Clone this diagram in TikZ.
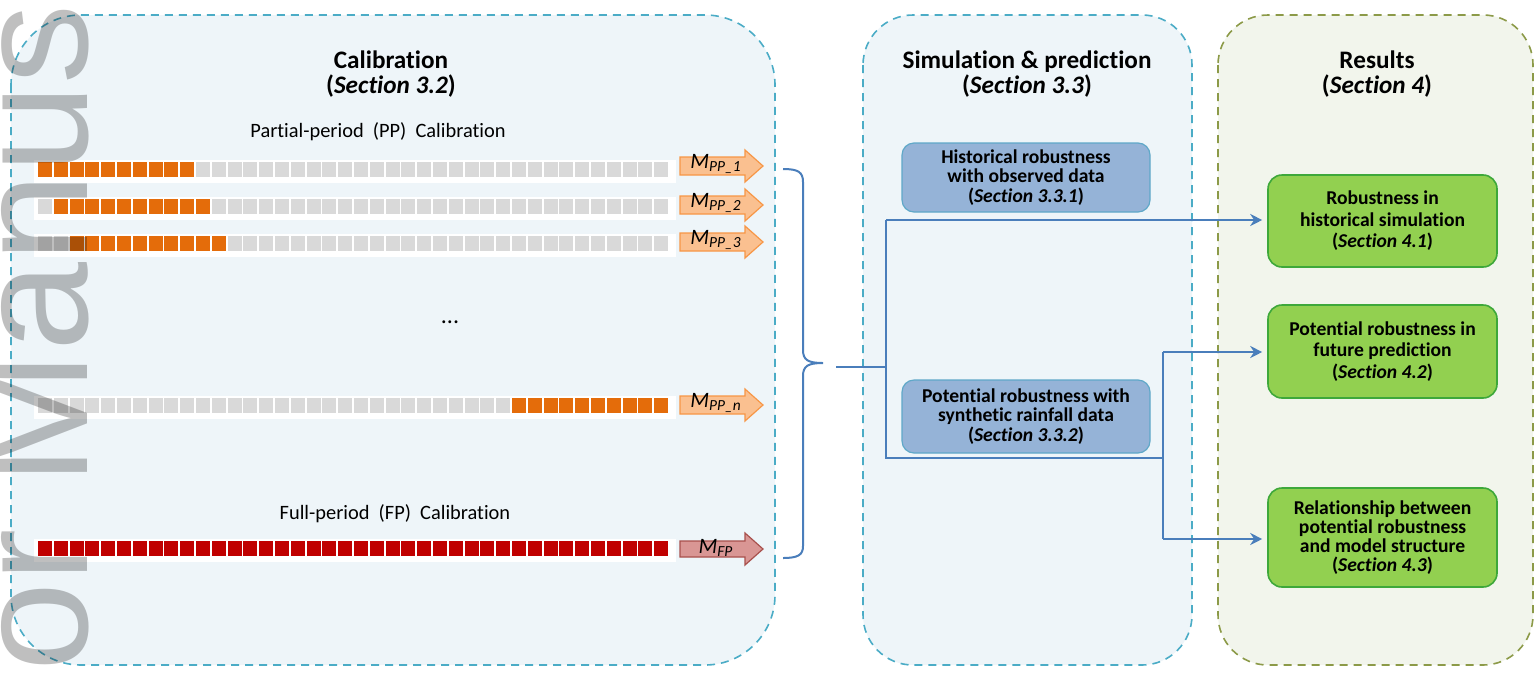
\documentclass[tikz,border=0pt]{standalone}
\usepackage{fontspec}
\setmainfont{Carlito}[Ligatures={NoCommon}]
\newfontfamily\wmfont{Liberation Sans}
\usetikzlibrary{positioning,calc,arrows.meta}

\definecolor{calfill}{HTML}{EEF5F9}
\definecolor{resfill}{HTML}{F2F5EC}
\definecolor{calteal}{HTML}{4BACC6}
\definecolor{resolive}{HTML}{8C9A48}
\definecolor{sqgray}{HTML}{D9D9D9}
\definecolor{sqorange}{HTML}{E46C0A}
\definecolor{sqred}{HTML}{C00000}
\definecolor{pporange}{HTML}{FAC090}
\definecolor{ppedge}{HTML}{F79646}
\definecolor{fpfill}{HTML}{D99694}
\definecolor{fpedge}{HTML}{A8504C}
\definecolor{simblue}{HTML}{95B3D7}
\definecolor{simedge}{HTML}{5FA8C8}
\definecolor{resgreen}{HTML}{92D050}
\definecolor{resedge}{HTML}{3EA83A}
\definecolor{linkblue}{HTML}{4A7EBB}

\begin{document}
\begin{tikzpicture}[x=0.5pt,y=-0.5pt,
  panel/.style={dashed, dash pattern=on 4pt off 3pt, line width=0.8pt},
  head/.style={align=center, font=\bfseries\fontsize{12.6}{12.5}\selectfont},
  subhead/.style={font=\fontsize{10.2}{12}\selectfont},
  mlabel/.style={anchor=base, inner sep=0pt, font=\itshape\fontsize{11}{12}\selectfont},
  simbox/.style={draw=simedge, fill=simblue, line width=0.6pt, rounded corners=6pt,
    minimum width=124pt, align=center, font=\bfseries\fontsize{9.8}{9.6}\selectfont},
  resbox/.style={draw=resedge, fill=resgreen, line width=0.8pt, rounded corners=7pt,
    minimum width=114.5pt, align=center, font=\bfseries\fontsize{9.8}{10.8}\selectfont},
  link/.style={draw=linkblue, line width=1pt},
  arr/.style={link, -{Stealth[length=6pt,width=6pt]}, shorten >=2.5pt}]

\useasboundingbox (0,0) rectangle (1535,675);

% panels
\draw[panel, draw=calteal, fill=calfill, rounded corners=35pt] (11,15) rectangle (775,665);
\draw[panel, draw=calteal, fill=calfill, rounded corners=25pt] (863,15) rectangle (1192,665);
\draw[panel, draw=resolive, fill=resfill, rounded corners=25pt] (1218,15) rectangle (1533,665);

\node[head] (calhead) at (391,74) {Calibration\\(\textit{Section 3.2})};
\node[head] (simhead) at (1027,74) {Simulation \& prediction\\(\textit{Section 3.3})};
\node[head] (reshead) at (1377,74) {Results\\(\textit{Section 4})};

\node[subhead] (pptitle) at (378,132) {Partial-period\ \ (PP)\ \ Calibration};
\node[subhead] (fptitle) at (395,514) {Full-period\ \ (FP)\ \ Calibration};
\node[font=\fontsize{12}{12}\selectfont] (dots) at (450,322) {...};

% rows of periods
\foreach \top/\os/\oe/\oc in {162/0/9/sqorange, 199/1/10/sqorange, 236/2/11/sqorange,
    398/30/39/sqorange, 541/0/39/sqred} {
  \fill[white] (34,\top-2) rectangle (676,\top+21);
  \foreach \i in {0,...,39}
    \fill[sqgray] (38+\i*15.8,\top) rectangle ++(14,15);
  \foreach \i in {\os,...,\oe}
    \fill[\oc] (38+\i*15.8,\top) rectangle ++(14,15);
}

% model arrows
\foreach \yc/\lab in {166/1, 205/2, 242/3, 405/n} {
  \draw[fill=pporange, draw=ppedge, line width=0.6pt]
    (680,\yc-9) -- (745,\yc-9) -- (745,\yc-16) -- (763,\yc) -- (745,\yc+16)
    -- (745,\yc+9) -- (680,\yc+9) -- cycle;
  \node[mlabel] (m\lab) at (716,\yc+2) {M\textsubscript{PP\_\lab}};
}
\draw[fill=fpfill, draw=fpedge, line width=0.6pt]
  (680,541) -- (745,541) -- (745,533) -- (763,549) -- (745,565)
  -- (745,557) -- (680,557) -- cycle;
\node[mlabel] (mfp) at (716,553) {M\textsubscript{FP}};

% brace
\draw[link] (783,169) .. controls (798,169) and (803,172) .. (803,182) -- (803,350)
  .. controls (803,360) and (808,363) .. (823,363)
  .. controls (808,363) and (803,366) .. (803,376) -- (803,546)
  .. controls (803,555) and (798,558) .. (783,558);

% simulation boxes
\node[simbox, minimum height=34.5pt] (hist) at (1026,177.5)
  {Historical robustness\\with observed data\\(\textit{Section 3.3.1})};
\node[simbox, minimum height=36.5pt] (synth) at (1026,416.5)
  {Potential robustness with\\synthetic rainfall data\\(\textit{Section 3.3.2})};

% result boxes
\node[resbox, minimum height=46pt] (res1) at (1382.5,221)
  {Robustness in\\historical simulation\\(\textit{Section 4.1})};
\node[resbox, minimum height=46.5pt] (res2) at (1382.5,351.5)
  {Potential robustness in\\future prediction\\(\textit{Section 4.2})};
\node[resbox, minimum height=49.5pt, font=\bfseries\fontsize{9.8}{9.6}\selectfont] (res3) at (1382.5,537.5)
  {Relationship between\\potential robustness\\and model structure\\(\textit{Section 4.3})};

% connectors
\coordinate (bt) at (836,367);
\coordinate (jl) at (886,367);
\coordinate (ltop) at (886,220);
\coordinate (lbot) at (886,458);
\coordinate (rbot) at (1163,458);
\coordinate (rtop) at (1163,352);
\coordinate (rlow) at (1163,539);
\draw[link] (bt) -- (jl);
\draw[link] (ltop) -- (lbot) -- (rbot);
\draw[link] (rtop) -- (rlow);
\draw[arr] (ltop) -- (ltop -| res1.west);
\draw[arr] (rtop) -- (rtop -| res2.west);
\draw[arr] (rlow) -- (rlow -| res3.west);

% watermark
\begin{scope}
  \clip (0,0) rectangle (1535,675);
  \node[rotate=90, anchor=base west, inner sep=0pt, text=black, text opacity=0.25,
    font=\wmfont\fontsize{80}{80}\selectfont] (wm) at (87,672) {or Manus};
\end{scope}
\end{tikzpicture}
\end{document}
